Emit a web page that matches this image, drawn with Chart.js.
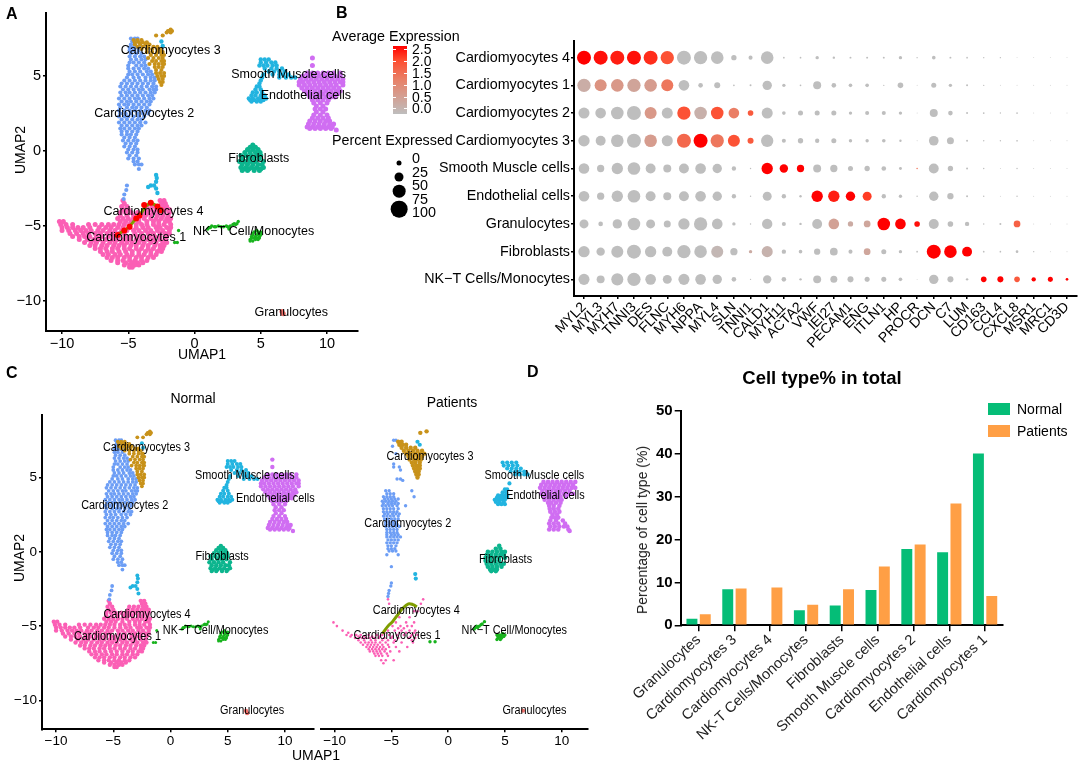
<!DOCTYPE html>
<html>
<head>
<meta charset="utf-8">
<script src="https://cdn.jsdelivr.net/npm/chart.js@4"></script>
<style>
  body { margin: 0; background: #fff; }
  #page { position: relative; width: 1084px; height: 764px; overflow: hidden; font-family: "Liberation Sans", Arial, sans-serif; color: #000; }
  canvas { position: absolute; }
  .t { position: absolute; white-space: nowrap; line-height: 1; transform: translateY(-50%); }
  .c { transform: translate(-50%, -50%); }
  .v { transform: translate(-50%, -50%) rotate(-90deg); }
  .b { font-weight: bold; }
  .dot { position: absolute; background: #000; border-radius: 50%; transform: translate(-50%, -50%); }
  .sw { position: absolute; width: 22px; height: 12px; }
  .bartick { position: absolute; width: 3px; height: 1px; background: #fff; }
</style>
</head>
<body>
<div id="page">
  <canvas id="umapA" width="362" height="364" style="left:0;top:0"></canvas>
  <canvas id="dots" width="669" height="364" style="left:415px;top:0"></canvas>
  <canvas id="umapNormal" width="318" height="384" style="left:0;top:380px"></canvas>
  <canvas id="umapPatients" width="275" height="384" style="left:317px;top:380px"></canvas>
  <canvas id="bars" width="484" height="404" style="left:600px;top:360px"></canvas>

  <div class="t b" style="left:6px;top:14px;font-size:16px">A</div>
  <div class="t b" style="left:336px;top:13px;font-size:16px">B</div>
  <div class="t b" style="left:6px;top:373px;font-size:16px">C</div>
  <div class="t b" style="left:527px;top:372px;font-size:16px">D</div>

  <div class="t v" style="left:20px;top:150px;font-size:14px">UMAP2</div>
  <div class="t v" style="left:19px;top:558px;font-size:14px">UMAP2</div>
  <div class="t v" style="left:642px;top:530px;font-size:14px;color:#222">Percentage of cell type (%)</div>

  <div class="t" style="left:332px;top:36px;font-size:14.3px">Average Expression</div>
  <div class="t" style="left:332px;top:140px;font-size:14.3px">Percent Expressed</div>
  <div id="colorbar" style="position:absolute;left:393px;top:46px;width:14px;height:68px;background:linear-gradient(#ff0000,#ff4b2d 20%,#e88269 50%,#bebebe)"></div>

  <div class="t c" style="left:193px;top:398px;font-size:14px">Normal</div>
  <div class="t c" style="left:452px;top:402px;font-size:14px">Patients</div>
  <div class="t c" style="left:316px;top:755px;font-size:14px">UMAP1</div>

  <div class="t c b" style="left:822px;top:378px;font-size:18.5px">Cell type% in total</div>
  <div class="sw" style="left:988px;top:403px;background:#05bd77"></div>
  <div class="t" style="left:1017px;top:409px;font-size:14px">Normal</div>
  <div class="sw" style="left:988px;top:425px;background:#ff9f45"></div>
  <div class="t" style="left:1017px;top:431px;font-size:14px">Patients</div>
</div>

<script>
// --- panel A / Normal clusters, each row is [y, x, x, ...] in UMAP units
const cm1Rows = [
  [-3.3,-5.4,-2.6,-2.3],[-3.5,-5.3,-2.5,-2.2],
  [-3.7,-5.5,-5.1,-3.6,-3.2,-2.8,-2.4,-2.1],[-3.9,-5.4,-5.0,-3.7,-3.3,-2.9,-2.5,-2.2,-1.9],
  [-4.1,-5.6,-5.2,-4.8,-4.3,-3.9,-3.5,-3.1,-2.7,-2.3,-1.9],[-4.3,-5.6,-5.1,-4.6,-4.1,-3.7,-3.3,-2.8,-2.4,-2.0],
  [-4.5,-5.8,-5.4,-5.0,-4.6,-4.2,-3.8,-3.3,-2.9,-2.5,-2.1,-1.8],[-4.7,-10.2,-9.9,-5.6,-5.2,-4.8,-4.2,-3.6,-3.1,-2.7,-2.2,-1.9],
  [-4.9,-10.1,-9.7,-9.2,-8.0,-7.5,-7.0,-6.5,-6.1,-5.7,-5.3,-4.9,-4.4,-4.0,-3.6,-3.1,-2.7,-2.3,-1.8],
  [-5.1,-10.0,-9.6,-9.2,-8.8,-8.4,-7.9,-7.2,-6.7,-6.3,-5.8,-5.4,-4.9,-4.4,-3.9,-3.5,-2.9,-2.6,-2.1,-1.8],
  [-5.3,-10.0,-9.5,-9.0,-8.6,-8.2,-7.8,-7.3,-6.9,-6.4,-6.0,-5.5,-5.1,-4.6,-4.2,-3.7,-3.3,-2.8,-2.4,-1.9],
  [-5.5,-9.4,-8.9,-8.4,-8.0,-7.5,-7.1,-6.6,-6.2,-5.7,-5.3,-4.5,-4.0,-3.5,-3.1,-2.6,-2.2,-1.9],
  [-5.7,-9.2,-8.7,-8.3,-7.9,-7.4,-7.0,-6.5,-6.1,-5.7,-5.2,-4.8,-4.3,-3.9,-3.4,-3.0,-2.6,-2.1],
  [-5.9,-8.7,-8.1,-7.6,-7.2,-6.7,-6.2,-5.8,-5.3,-4.9,-4.4,-4.0,-3.5,-3.1,-2.6,-2.2],
  [-6.1,-8.3,-7.8,-7.4,-6.9,-6.4,-6.0,-5.5,-5.1,-4.7,-4.2,-3.8,-3.3,-2.9,-2.4,-2.1],
  [-6.3,-7.9,-7.5,-7.0,-6.6,-6.1,-5.7,-5.3,-4.8,-4.4,-3.9,-3.5,-3.0,-2.6,-2.3],
  [-6.5,-7.5,-7.1,-6.7,-6.2,-5.8,-5.3,-4.9,-4.4,-4.0,-3.5,-3.1,-2.6,-2.4],
  [-6.7,-7.1,-6.6,-6.2,-5.7,-5.2,-4.7,-4.2,-3.7,-3.3,-2.8,-2.5],
  [-6.9,-6.9,-6.5,-6.0,-5.6,-5.1,-4.7,-4.2,-3.8,-3.3,-2.9],[-7.1,-6.6,-6.2,-5.8,-5.3,-4.9,-4.4,-4.0,-3.5,-3.1],
  [-7.3,-6.3,-5.8,-5.4,-4.9,-4.5,-4.0,-3.6],[-7.45,-5.8,-5.2,-4.7,-4.3,-3.9],
  [-7.6,-5.3,-4.9,-4.5,-4.2],[-7.75,-4.9,-4.7]
];
const cm2Rows = [
  [7.5,-4.8,-4.5,-4.3],[7.3,-4.7,-4.4],[7.1,-4.8,-4.5],[6.9,-4.9,-4.7,-4.4,-4.1],[6.7,-4.9,-4.6,-4.2],[6.5,-4.8,-4.4,-4.0],
  [6.3,-4.9,-4.5,-4.1,-3.8],[6.1,-4.8,-4.4,-4.0,-3.7],[5.9,-4.9,-4.6,-4.2,-3.8],[5.7,-5.0,-4.4,-4.0,-3.7],
  [5.5,-5.0,-4.6,-4.2,-3.8,-3.5],[5.3,-4.9,-4.5,-4.1,-3.6,-3.3],[5.1,-5.0,-4.7,-4.3,-3.9,-3.5,-3.2],[4.9,-5.1,-4.6,-4.2,-3.7,-3.3,-3.0],
  [4.7,-5.3,-4.9,-4.5,-4.1,-3.7,-3.3,-3.0],[4.5,-5.5,-5.1,-4.7,-4.3,-3.9,-3.5,-3.1],[4.3,-5.6,-5.2,-4.8,-4.4,-4.0,-3.6,-3.2,-2.9],
  [4.1,-5.4,-5.0,-4.6,-4.2,-3.9,-3.4,-3.1,-2.9],[3.9,-5.6,-5.2,-4.9,-4.5,-4.1,-3.7,-3.3,-3.0],[3.7,-5.5,-5.1,-4.7,-4.3,-3.9,-3.5,-3.2],
  [3.5,-5.7,-5.3,-4.9,-4.5,-4.2,-3.8,-3.4,-3.1],[3.3,-5.5,-5.1,-4.8,-4.4,-4.0,-3.6,-3.3],[3.1,-5.7,-5.3,-5.0,-4.6,-4.2,-3.8,-3.4],
  [2.9,-5.6,-5.1,-4.7,-4.4,-4.0,-3.6],[2.7,-5.7,-5.3,-4.9,-4.5,-4.1,-3.7,-3.4],[2.5,-5.6,-5.2,-4.8,-4.3,-3.9,-3.5],
  [2.3,-5.7,-5.3,-5.0,-4.6,-4.2,-3.8],[2.1,-5.5,-5.1,-4.7,-4.3,-4.0],[1.9,-5.7,-5.3,-4.9,-4.5,-4.1,-3.7],[1.7,-5.5,-5.1,-4.7,-4.3,-4.0],
  [1.5,-5.6,-5.3,-4.9,-4.5,-4.2],[1.3,-5.5,-5.1,-4.7,-4.3],[1.1,-5.5,-5.1,-4.8,-4.4],[0.9,-5.3,-4.9,-4.5],[0.7,-5.4,-5.0,-4.6,-4.3],
  [0.5,-5.2,-4.8,-4.4],[0.3,-5.3,-4.9,-4.5],[0.1,-5.0,-4.6,-4.3],[-0.1,-5.1,-4.7,-4.3],[-0.3,-4.9,-4.4],[-0.5,-5.0,-4.6,-4.2],
  [-0.7,-4.6,-4.3],[-0.9,-4.5,-4.2,-4.0],[-1.2,-4.2],
  [-2.3,-5.1],[-2.6,-5.15],[-2.9,-5.3],[-3.2,-5.35]
];
const cm3Rows = [
  [8.1,-1.8],[8.0,-2.0,-1.9,-1.7],[7.9,-2.1,-1.8],[7.7,-2.9,-2.4],[7.4,-4.6,-4.3,-4.0],[7.25,-4.5,-4.2,-3.9,-3.6],[7.1,-4.5,-4.1,-3.7,-3.4],
  [6.95,-4.3,-3.9,-3.5,-3.1,-2.8],[6.8,-4.0,-3.6,-3.2,-2.8,-2.6],[6.6,-3.6,-3.2,-2.8,-2.5,-2.4],[6.4,-3.3,-2.9,-2.5,-2.3],
  [6.2,-3.5,-3.1,-2.7,-2.4],[6.0,-3.2,-2.9,-2.5,-2.3],[5.8,-3.4,-3.0,-2.7,-2.4,-2.3],[5.6,-3.0,-2.7,-2.4],[5.4,-2.9,-2.5],
  [5.2,-2.9,-2.6,-2.3],[5.0,-2.8,-2.5,-2.3],[4.8,-2.7,-2.4],[4.6,-2.6,-2.4],[4.4,-2.5]
];
const smcRows = [
  [7.3,-2.5],[7.0,-2.4],[6.1,5.0,5.3,5.6],[5.9,5.0,5.4,5.8,6.1],[5.7,4.9,5.2,5.5,5.9,6.2],[5.5,5.3,5.8,6.2,6.6],[5.3,5.6,6.0,6.4,6.8],
  [5.1,5.2,5.9,6.4,6.7,7.1],[4.9,5.1,6.4,6.9,7.3,7.6],[4.7,5.0],[4.5,4.9],[4.3,4.7,4.9],[4.1,4.6,5.0],[3.9,4.4,4.7,5.1],[3.7,4.3,4.6,5.0,5.3],
  [3.5,4.1,4.4,4.8,5.1,5.4],[3.4,4.2,4.5,4.9,5.2],[3.3,4.3,4.7,5.0],
  [-1.6,-2.9],[-1.8,-2.85],[-2.05,-2.9],[-2.3,-3.3,-3.05],[-2.4,-3.5],[-2.5,-2.9],[-2.8,-2.8]
];
const ecRows = [
  [6.2,8.9],[5.7,8.9],[5.2,8.5,8.9,9.3,9.7,10.1,10.5,11.0],[5.0,8.2,8.6,9.0,9.4,9.8,10.2,10.6,11.0],
  [4.8,8.0,8.4,8.8,9.2,9.6,10.0,10.4,10.8,11.2],[4.6,7.9,8.2,8.6,9.0,9.4,9.8,10.2,10.6,11.0,11.2],
  [4.4,7.9,8.3,8.7,9.1,9.5,9.9,10.3,10.7,11.2],[4.2,8.1,8.5,8.9,9.3,9.7,10.1,10.5,10.9],
  [4.0,8.3,8.7,9.1,9.5,9.9,10.3,10.7,11.0],[3.8,8.5,8.9,9.3,9.7,10.1,10.5,10.8],
  [3.6,8.7,9.1,9.5,9.9,10.3,10.6],[3.4,8.9,9.3,9.7,10.1],[3.2,9.0,9.5,10.0],[3.0,9.2,9.7],[2.8,9.1,9.5,9.9],[2.6,9.2,9.7],
  [2.4,9.0,9.5,10.0],[2.2,8.9,9.3,9.7,10.1],[2.0,8.7,9.1,9.5,9.9,10.2],[1.8,8.6,9.0,9.4,9.8,10.2,10.5],
  [1.6,8.5,8.9,9.3,9.7,10.1,10.4],[1.5,8.7,9.1,9.5,9.9,10.3],[1.4,10.7]
];
const fibRows = [
  [0.4,4.4],[0.25,4.2,4.6],[0.1,4.0,4.4,4.8],[-0.1,3.8,4.2,4.6,4.95],[-0.3,3.5,3.9,4.3,4.7,5.0],[-0.5,3.6,4.1,4.5,4.9],
  [-0.7,3.4,3.8,4.2,4.6,5.2],[-0.9,3.6,4.0,4.4,4.8,5.1],[-1.1,3.5,3.9,4.3,4.7,5.2],[-1.2,3.7,4.1,4.5,5.0],[-1.3,3.6,4.0,4.5,4.9]
];
const nkRows = [
  [-4.7,3.3],[-4.85,3.0,3.2],[-4.9,2.9,3.1],[-5.0,1.3,1.8,2.4,2.7],[-5.05,1.5,1.6,2.0,2.2,2.5],[-5.1,1.1,1.2,2.6],[-5.2,1.0,2.6],
  [-5.3,-1.2,4.7],[-5.4,4.5,4.8,5.0],[-5.5,4.4,4.8,5.0],[-5.6,4.4,4.7,5.0],[-5.7,4.3,4.6,4.9],[-5.8,4.3,4.5,4.7,4.9],[-5.9,4.2,4.6,4.8],
  [-6.0,4.2,4.4],[-6.1,-1.5,-1.3]
];
const granRows = [[-10.7,6.6],[-10.85,6.7]];
const cm4Line = [[-6,-5.7],[-5.5,-5.4],[-5,-5.1],[-4.5,-4.6],[-4,-4.1],[-3.7,-3.7],[-3.3,-3.5],[-2.8,-3.7],[-2.4,-4.1]];
const cm4Red = [[-5.8,-5.6],[-5.3,-5.3],[-4.9,-5.05],[-4.4,-4.5],[-4.15,-4.3],[-3.8,-3.6],[-3.3,-3.45],[-2.8,-3.7],[-2.55,-3.95]];

// --- Patients panel clusters
const pCm1Rows = [
  [-3.2,-5.3,-2.2],[-3.5,-5.2,-2.4],[-4.0,-3.0,-2.7],[-4.4,-4.3,-3.4],[-4.75,-10.1,-4.6,-3.7,-3.0],
  [-5.0,-9.8,-4.9,-4.2,-3.6,-3.2],[-5.15,-4.4,-3.9],[-5.3,-9.3,-5.3,-4.7,-4.1,-3.4,-2.9],[-5.45,-8.8,-5.6,-4.3,-3.7,-3.0],
  [-5.6,-8.95,-8.5,-8.1,-7.7,-7.0,-6.3,-5.8,-5.2,-4.5,-3.9,-3.2,-2.7],[-5.7,-8.6,-7.9,-7.4,-6.7,-6.0,-4.9,-3.3],
  [-5.8,-8.2,-7.6,-7.2,-6.9,-6.5,-6.1,-5.6,-5.0,-4.4,-3.5,-2.9],[-5.95,-7.9,-7.4,-6.8,-6.4,-5.8,-5.3,-4.7,-3.2],
  [-6.1,-7.7,-7.3,-7.0,-6.7,-6.4,-6.0,-5.5,-4.8,-4.1,-3.1],[-6.25,-7.5,-7.1,-6.8,-6.5,-6.2,-5.8,-5.3],
  [-6.4,-7.2,-6.9,-6.6,-6.3,-6.0,-5.7,-5.2,-4.6,-3.6],[-6.55,-7.0,-6.7,-6.4,-6.1,-5.8,-5.5],
  [-6.7,-6.9,-6.6,-6.3,-6.0,-5.6,-5.1,-4.3],[-6.85,-6.5,-6.2,-5.9,-5.4],[-7.0,-6.4,-6.1,-5.8,-5.3],[-7.3,-5.9,-5.5,-4.8],[-7.5,-5.7]
];
const pCm2Rows = [
  [7.5,-4.8,-4.6],[7.1,-4.9],[6.6,-4.6],[5.9,-4.8],[5.7,-4.8,-4.3],[5.5,-4.2],[4.9,-4.5,-4.2],[4.8,-4.0],
  [4.1,-5.5,-5.2,-3.2],[3.9,-5.4,-5.1,-4.8],[3.7,-5.7,-5.4,-5.1,-4.8,-3.0],[3.55,-5.6,-5.3,-5.0,-4.7,-4.4],[3.4,-5.8,-5.5,-5.2,-4.9,-4.6],
  [3.25,-5.7,-5.3,-5.0,-4.7,-4.4],[3.1,-5.8,-5.5,-5.2,-4.9,-4.5,-3.75],[2.9,-5.7,-5.4,-5.1,-4.8,-4.4],[2.7,-5.7,-5.4,-5.1,-4.8,-4.5],
  [2.55,-5.6,-5.3,-4.9,-4.6,-4.3],[2.4,-5.7,-5.4,-5.1,-4.8,-4.4],[2.2,-5.6,-5.3,-5.0,-4.7,-4.4],[2.0,-5.5,-5.2,-4.9,-4.6],
  [1.85,-5.5,-5.2,-4.8,-4.5],[1.7,-5.5,-5.2,-4.9,-4.6,-4.3],[1.5,-5.4,-5.1,-4.8,-4.5],[1.3,-5.4,-5.1,-4.8,-4.5],
  [1.15,-5.4,-5.0,-4.7,-4.4],[1.0,-5.4,-5.1,-4.8,-4.5,-4.2],[0.8,-5.3,-5.0,-4.7,-4.4],[0.6,-5.4,-5.1,-4.8,-4.5],
  [0.4,-5.3,-5.0,-4.6],[0.2,-5.3,-5.0,-4.7],[0.05,-5.2,-4.9,-4.6],[-0.2,-5.4,-4.4],[-1.0,-5.0],
  [-2.1,-5.0],[-2.3,-5.05],[-2.6,-5.2],[-2.8,-5.25],[-3.0,-5.3]
];
const pCm3Rows = [
  [8.1,-1.9],[8.0,-2.45],[7.4,-4.4,-4.1],[7.2,-4.3,-4.0,-3.7],[7.0,-4.1,-3.7,-3.3,-2.9],[6.8,-3.9,-3.5,-3.1,-2.7,-2.3],
  [6.6,-3.7,-3.3,-2.9,-2.5,-2.1],[6.4,-3.5,-3.1,-2.7,-2.3],[6.2,-3.4,-3.0,-2.7,-2.4],[6.0,-3.2,-2.9,-2.5],
  [5.8,-3.1,-2.8,-2.5],[5.6,-3.0,-2.7,-2.5],[5.4,-2.9,-2.6],[5.2,-2.8,-2.6],[5.0,-2.7]
];
const pSmcRows = [
  [7.4,-2.7],[7.2,-2.5],[-1.5,-2.9],[-1.8,-2.85],[6.0,4.8,5.2,5.6,6.0],[5.8,4.9,5.3,5.7,6.1],[5.6,5.2,5.6,6.0,6.4],[5.4,5.5,5.9,6.3,6.7],
  [5.2,5.9,6.3,6.7,7.0],[4.6,5.4],[4.2,5.0,5.2],[4.0,4.8,5.1],[3.8,4.4,4.7,5.0,5.2],[3.65,4.3,4.6,4.9,5.2],[3.5,4.1,4.4,4.7,5.0],[3.35,4.2,4.5,4.9],[3.2,4.4,4.7,5.0]
];
const pEcRows = [
  [4.7,8.4,8.8,9.2,9.6,10.0,10.4,10.8,11.2],[4.5,8.2,8.6,9.0,9.4,9.8,10.2,10.6,11.0],[4.3,8.1,8.5,8.9,9.3,9.7,10.1,10.5,10.9,11.2],
  [4.1,8.3,8.7,9.1,9.5,9.9,10.3,10.7],[3.9,8.2,8.6,9.0,9.4,9.8,10.2,10.6,11.0],[3.7,8.4,8.8,9.2,9.6,9.9,10.4],[3.5,8.5,8.9,9.3,9.7,10.0],
  [3.3,8.8,9.1,9.5,9.9],[3.1,8.9,9.3,9.8],[2.9,8.95,9.3,9.7],[2.7,9.0,9.4,9.8],[2.5,9.2,9.6],[2.3,9.1,9.4,9.7],[2.1,9.0,9.5,10.1],
  [1.9,8.9,9.3,9.7,10.3],[1.7,9.0,9.4,9.8,10.2,10.5],[1.5,8.9,9.3,9.7,10.6],[1.4,10.7]
];
const pFibRows = [
  [0.4,4.5],[0.2,4.2,4.6],[0.0,3.5,3.9,4.3,4.7,5.0],[-0.2,3.4,3.8,4.2,4.6,4.9],[-0.4,3.3,3.7,4.1,4.5,5.0],[-0.6,3.3,3.7,4.1,4.5],
  [-0.8,3.4,3.8,4.2,4.6,4.9],[-1.0,3.5,3.9,4.3,4.7],[-1.2,3.7,4.0,4.3],[-1.3,3.8,4.2]
];
const pNkRows = [
  [-4.7,3.2],[-4.85,3.0],[-4.9,2.9],[-5.0,2.75,2.5],[-5.1,2.6,2.4],[-5.2,2.3],[-5.5,4.8],[-5.6,4.3,4.5,4.7,5.0],[-5.7,4.4,4.6,4.9],
  [-5.8,4.4,4.7],[-5.9,4.3,4.6],[-6.05,-1.15,-1.6]
];
const pGranRows = [[-10.7,6.6]];
const pCm4Line = [[-5.8,-5.5],[-5.3,-5.0],[-4.9,-4.7],[-4.4,-4.2],[-4.0,-3.8],[-3.5,-3.5],[-3.1,-3.55],[-2.75,-3.7]];

const labelsA = [
  ['Cardiomyocytes 3',-1.8,6.7],['Smooth Muscle cells',7.1,5.1],['Endothelial cells',8.4,3.67],
  ['Cardiomyocytes 2',-3.8,2.5],['Fibroblasts',4.85,-0.5],['Cardiomyocytes 4',-3.1,-4.05],
  ['Cardiomyocytes 1',-4.4,-5.8],['NK\u2212T Cell/Monocytes',4.46,-5.4],['Granulocytes',7.3,-10.8]
];
const labelsNormal = [
  ['Cardiomyocytes 3',-2.1,7.04],['Smooth Muscle cells',6.5,5.1],['Endothelial cells',9.16,3.6],
  ['Cardiomyocytes 2',-4,3.14],['Fibroblasts',4.5,-0.3],['Cardiomyocytes 4',-2.06,-4.2],
  ['Cardiomyocytes 1',-4.64,-5.67],['NK\u2212T Cell/Monocytes',3.94,-5.27],['Granulocytes',7.13,-10.7]
];
const labelsPatients = [
  ['Cardiomyocytes 3',-1.6,6.4],['Smooth Muscle cells',7.6,5.15],['Endothelial cells',8.57,3.77],
  ['Cardiomyocytes 2',-3.55,1.9],['Fibroblasts',5.05,-0.5],['Cardiomyocytes 4',-2.8,-3.97],
  ['Cardiomyocytes 1',-4.5,-5.65],['NK\u2212T Cell/Monocytes',5.83,-5.3],['Granulocytes',7.6,-10.65]
];

// --- dot plot
const genes = ['MYL2','MYL3','MYH7','TNNI3','DES','FLNC','MYH6','NPPA','MYL4','SLN','TNNI1','CALD1','MYH11','ACTA2','VWF','IEI27','PECAM1','ENG','ITLN1','HP','PROCR','DCN','C7','LUM','CD163','CCL4','CXCL8','MSR1','MRC1','CD3D'];
const dotRows = ['Cardiomyocytes 4','Cardiomyocytes 1','Cardiomyocytes 2','Cardiomyocytes 3','Smooth Muscle cells','Endothelial cells','Granulocytes','Fibroblasts','NK\u2212T Cells/Monocytes'];
const pctExpressed = [
  [100,100,100,100,100,95,100,95,90,38,29,90,12,12,24,17,14,14,14,24,10,26,14,12,10,10,7,7,7,7],
  [95,86,90,95,90,86,76,33,43,12,14,67,24,12,57,33,26,26,10,40,7,36,24,14,10,7,7,7,7,7],
  [79,76,90,100,86,79,95,90,90,76,40,79,26,36,36,36,24,29,29,24,7,57,33,14,12,10,12,7,7,7],
  [81,71,90,100,90,79,100,100,95,86,43,88,29,38,31,36,24,24,26,17,7,69,50,14,10,10,12,7,7,7],
  [76,52,81,90,71,57,71,76,67,31,10,81,60,52,57,52,36,38,33,21,10,71,38,14,10,7,10,7,7,7],
  [76,52,81,90,71,57,71,76,67,31,10,64,31,17,81,81,67,64,31,24,10,67,45,14,10,7,10,7,7,7],
  [64,33,67,90,64,50,81,95,76,24,10,74,29,17,71,76,38,48,90,76,40,71,40,31,10,14,48,7,7,7],
  [81,60,86,100,81,71,95,90,86,52,24,79,31,26,45,55,29,48,36,24,12,100,90,71,12,12,19,10,7,7],
  [79,57,86,95,76,64,79,76,67,33,10,60,33,17,57,50,43,36,36,26,7,67,43,17,40,43,40,31,36,19]
];
const avgExpression = [
  [2.5,2.4,2.3,2.4,2.2,1.9,0,0,0,0,0,0,0,0,0,0,0,0,0,0,0,0,0,0,0,0,0,0,0,0],
  [.35,.9,.8,.55,.7,1.4,0,0,0,0,0,0,0,0,0,0,0,0,0,0,0,0,0,0,0,0,0,0,0,0],
  [0,0,0,0,.8,0,1.9,.3,1.9,1.3,1.8,0,0,0,0,0,0,0,0,0,0,0,0,0,0,0,0,0,0,0],
  [0,0,0,0,.7,0,1.6,2.5,1.4,1.9,1.8,0,0,0,0,0,0,0,0,0,0,0,0,0,0,0,0,0,0,0],
  [0,0,0,0,0,0,0,0,0,0,0,2.5,2.5,2.5,0,0,0,0,0,0,1.5,0,0,0,0,0,0,0,0,0],
  [0,0,0,0,0,0,0,0,0,0,0,0,0,0,2.5,2.3,2.5,2.1,0,0,0,0,0,0,0,0,0,0,0,0],
  [0,0,0,0,0,0,0,0,0,0,0,0,0,0,0,.6,.4,.5,2.5,2.5,2.4,0,0,0,0,0,1.7,0,0,0],
  [0,0,0,0,0,0,0,0,.15,0,.4,.25,0,0,0,0,0,.5,0,0,0,2.5,2.5,2.5,0,0,0,0,0,0],
  [0,0,0,0,0,0,0,0,0,0,0,0,0,0,0,0,0,0,0,0,0,0,0,0,2.5,2.5,1.8,2.5,2.5,2.5]
];
const avgTicks = ['2.5','2.0','1.5','1.0','0.5','0.0'];
const pctTicks = ['0','25','50','75','100'];

// --- bar chart
const cellTypes = ['Granulocytes','Cardiomyocytes 3','Cardiomyocytes 4','NK-T Cells/Monocytes','Fibroblasts','Smooth Muscle cells','Cardiomyocytes 2','Endothelial cells','Cardiomyocytes 1'];
const normalPct = [1.5,8.4,0,3.5,4.6,8.2,17.8,17,40];
const patientsPct = [2.6,8.6,8.8,4.8,8.4,13.7,18.8,28.4,6.8];

const colors = { cm1:'#fb5fb5', cm2:'#6d9ef5', cm3:'#c8921a', smc:'#22b4e0', ec:'#d06ef2', fib:'#0cb58e', nk:'#18b31e', gran:'#f0706a', olive:'#7f9e00', red:'#ff0000' };

Chart.defaults.font.family = '"Liberation Sans", Arial, sans-serif';
Chart.defaults.color = '#000';
Chart.defaults.animation = false;

const cells = rows => rows.flatMap(([y, ...xs]) => xs.map(x => ({ x, y })));
const pairs = list => list.map(([x, y]) => ({ x, y }));
const cloud = (rows, color, radius) => ({ data: cells(rows), pointRadius: radius, pointBackgroundColor: color, pointBorderWidth: 0, showLine: false });
const curve = (list, color, width) => ({ data: pairs(list), showLine: true, borderColor: color, borderWidth: width, pointRadius: 0, tension: 0.4 });

const clusterLabels = (items, squeeze, size) => ({
  id: 'clusterLabels',
  afterDatasetsDraw(chart) {
    const { ctx, scales: { x, y } } = chart;
    items.forEach(([text, ux, uy]) => {
      ctx.save();
      ctx.translate(x.getPixelForValue(ux), y.getPixelForValue(uy));
      ctx.scale(squeeze, 1);
      ctx.font = size + 'px "Liberation Sans", Arial, sans-serif';
      ctx.fillStyle = '#000';
      ctx.textAlign = 'center';
      ctx.textBaseline = 'middle';
      ctx.fillText(text, 0, 0);
      ctx.restore();
    });
  }
});

const minus = v => String(v).replace('-', '\u2212');
const axisGrid = len => ({ drawOnChartArea: false, drawTicks: true, tickLength: len, color: '#000', lineWidth: 1.5 });

function umap(id, datasets, labels, cfg) {
  new Chart(document.getElementById(id), {
    type: 'scatter',
    data: { datasets },
    plugins: [clusterLabels(labels, cfg.squeeze, 12.5)],
    options: {
      responsive: false,
      layout: { padding: { top: cfg.top, right: cfg.right } },
      plugins: { legend: { display: false }, tooltip: { enabled: false } },
      scales: {
        x: {
          type: 'linear', min: cfg.xMin, max: cfg.xMax,
          grid: axisGrid(3), border: { color: '#000', width: 2 },
          ticks: { stepSize: 5, includeBounds: false, maxRotation: 0, padding: 1, font: { size: cfg.tick }, callback: minus },
          title: { display: cfg.xTitle, text: 'UMAP1', font: { size: 14 }, padding: 0 },
          afterFit: s => { s.height = cfg.xHeight; }
        },
        y: {
          type: 'linear', min: cfg.yMin, max: cfg.yMax, display: cfg.yAxis,
          grid: axisGrid(3), border: { color: '#000', width: 2 },
          ticks: { stepSize: 5, includeBounds: false, padding: 2, font: { size: cfg.tick }, callback: minus },
          afterFit: s => { s.width = cfg.yWidth; }
        }
      }
    }
  });
}

// the first dataset in a chart is painted on top
umap('umapA', [
  { data: pairs(cm4Red), pointRadius: 3, pointBackgroundColor: colors.red, pointBorderWidth: 0, showLine: false },
  curve(cm4Line, colors.olive, 3),
  cloud(granRows, colors.gran, 2.5), cloud(nkRows, colors.nk, 1.7), cloud(fibRows, colors.fib, 2.5),
  cloud(smcRows, colors.smc, 2.2), cloud(cm3Rows, colors.cm3, 2.1), cloud(ecRows, colors.ec, 2.5),
  cloud(cm2Rows, colors.cm2, 2.1), cloud(cm1Rows, colors.cm1, 2.5)
], labelsA, { squeeze: 1, top: 12.7, right: 2, xMin: -11.21, xMax: 12.34, yMin: -12, yMax: 9.22, xHeight: 33, yWidth: 46, tick: 14.5, xTitle: true, yAxis: true });

umap('umapNormal', [
  cloud(granRows, colors.gran, 2.2), cloud(nkRows, colors.nk, 1.5), cloud(fibRows, colors.fib, 2.2),
  cloud(smcRows, colors.smc, 2), cloud(cm3Rows, colors.cm3, 1.9), cloud(ecRows, colors.ec, 2.2),
  cloud(cm2Rows, colors.cm2, 1.9), cloud(cm1Rows, colors.cm1, 2.2)
], labelsNormal, { squeeze: 0.87, top: 35, right: 2, xMin: -11.23, xMax: 12.54, yMin: -11.94, yMax: 9.2, xHeight: 34.7, yWidth: 42, tick: 13.5, xTitle: false, yAxis: true });

umap('umapPatients', [
  curve(pCm4Line, colors.olive, 3),
  cloud(pGranRows, colors.gran, 2), cloud(pNkRows, colors.nk, 1.7), cloud(pFibRows, colors.fib, 2.3),
  cloud(pSmcRows, colors.smc, 2.1), cloud(pCm3Rows, colors.cm3, 2.2), cloud(pEcRows, colors.ec, 2.3),
  cloud(pCm2Rows, colors.cm2, 1.7), cloud(pCm1Rows, colors.cm1, 1.3)
], labelsPatients, { squeeze: 0.87, top: 35, right: 3, xMin: -11.2, xMax: 12.32, yMin: -11.94, yMax: 9.2, xHeight: 34.7, yWidth: 0, tick: 13.5, xTitle: false, yAxis: false });

// grey to red colour ramp of the dot plot
const rampStops = [[0,190,190,190],[1.25,232,130,105],[2,255,75,45],[2.5,255,0,0]];
function ramp(v) {
  let i = 0;
  while (i < rampStops.length - 2 && v > rampStops[i + 1][0]) i++;
  const a = rampStops[i], b = rampStops[i + 1], t = (v - a[0]) / (b[0] - a[0]);
  return `rgb(${[1, 2, 3].map(k => Math.round(a[k] + (b[k] - a[k]) * t)).join(',')})`;
}

const dotData = [], dotRadius = [], dotColor = [];
dotRows.forEach((row, r) => genes.forEach((g, c) => {
  dotData.push({ x: c, y: r });
  dotRadius.push(pctExpressed[r][c] * 0.07);
  dotColor.push(ramp(avgExpression[r][c]));
}));

new Chart(document.getElementById('dots'), {
  type: 'scatter',
  data: { datasets: [{ data: dotData, pointRadius: dotRadius, pointBackgroundColor: dotColor, pointBorderWidth: 0 }] },
  options: {
    responsive: false,
    layout: { padding: { top: 41, right: 5 } },
    plugins: { legend: { display: false }, tooltip: { enabled: false } },
    scales: {
      x: {
        type: 'linear', min: -0.6, max: 29.6,
        grid: axisGrid(3), border: { color: '#000', width: 2 },
        ticks: { stepSize: 1, autoSkip: false, includeBounds: false, maxRotation: 45, minRotation: 45, padding: 0, font: { size: 14 }, callback: v => genes[v] },
        afterFit: s => { s.height = 68; }
      },
      y: {
        type: 'linear', min: -0.6, max: 8.6, reverse: true,
        grid: axisGrid(3), border: { color: '#000', width: 2 },
        ticks: { stepSize: 1, autoSkip: false, includeBounds: false, padding: 1, font: { size: 14.3 }, callback: v => dotRows[v] },
        afterFit: s => { s.width = 159; }
      }
    }
  }
});

new Chart(document.getElementById('bars'), {
  type: 'bar',
  data: {
    labels: cellTypes,
    datasets: [
      { label: 'Normal', data: normalPct, backgroundColor: '#05bd77', barPercentage: 0.82, categoryPercentage: 0.745 },
      { label: 'Patients', data: patientsPct, backgroundColor: '#ff9f45', barPercentage: 0.82, categoryPercentage: 0.745 }
    ]
  },
  options: {
    responsive: false,
    layout: { padding: { top: 50.7, right: 81 } },
    plugins: { legend: { display: false }, tooltip: { enabled: false } },
    scales: {
      x: {
        grid: { ...axisGrid(6), offset: false }, border: { color: '#000', width: 2 },
        ticks: { autoSkip: false, maxRotation: 43, minRotation: 43, padding: 0, font: { size: 14.7 }, color: '#222' },
        afterFit: s => { s.height = 138.7; }
      },
      y: {
        min: 0, max: 50,
        grid: axisGrid(6), border: { color: '#000', width: 2 },
        ticks: { stepSize: 10, padding: 2, font: { size: 15, weight: 'bold' } },
        afterFit: s => { s.width = 80.7; }
      }
    }
  }
});

// legends of panel B
const page = document.getElementById('page');
function addText(text, left, top, size) {
  const el = document.createElement('div');
  el.className = 't';
  el.textContent = text;
  el.style.cssText = `left:${left}px;top:${top}px;font-size:${size}px`;
  page.appendChild(el);
}
const avgTickY = [49, 61, 73, 85, 97, 108];
avgTicks.forEach((t, i) => {
  addText(t, 412, avgTickY[i], 14);
  [393, 404].forEach(x => {
    const tick = document.createElement('div');
    tick.className = 'bartick';
    tick.style.cssText = `left:${x}px;top:${avgTickY[i]}px`;
    page.appendChild(tick);
  });
});
const pctTickY = [158, 172, 185, 199, 212];
pctTicks.forEach((t, i) => addText(t, 412, pctTickY[i], 14.4));
[[163, 5], [177, 9], [191, 12.7], [209, 16.7]].forEach(([y, d]) => {
  const dot = document.createElement('div');
  dot.className = 'dot';
  dot.style.cssText = `left:399px;top:${y}px;width:${d}px;height:${d}px`;
  page.appendChild(dot);
});
</script>
</body>
</html>
